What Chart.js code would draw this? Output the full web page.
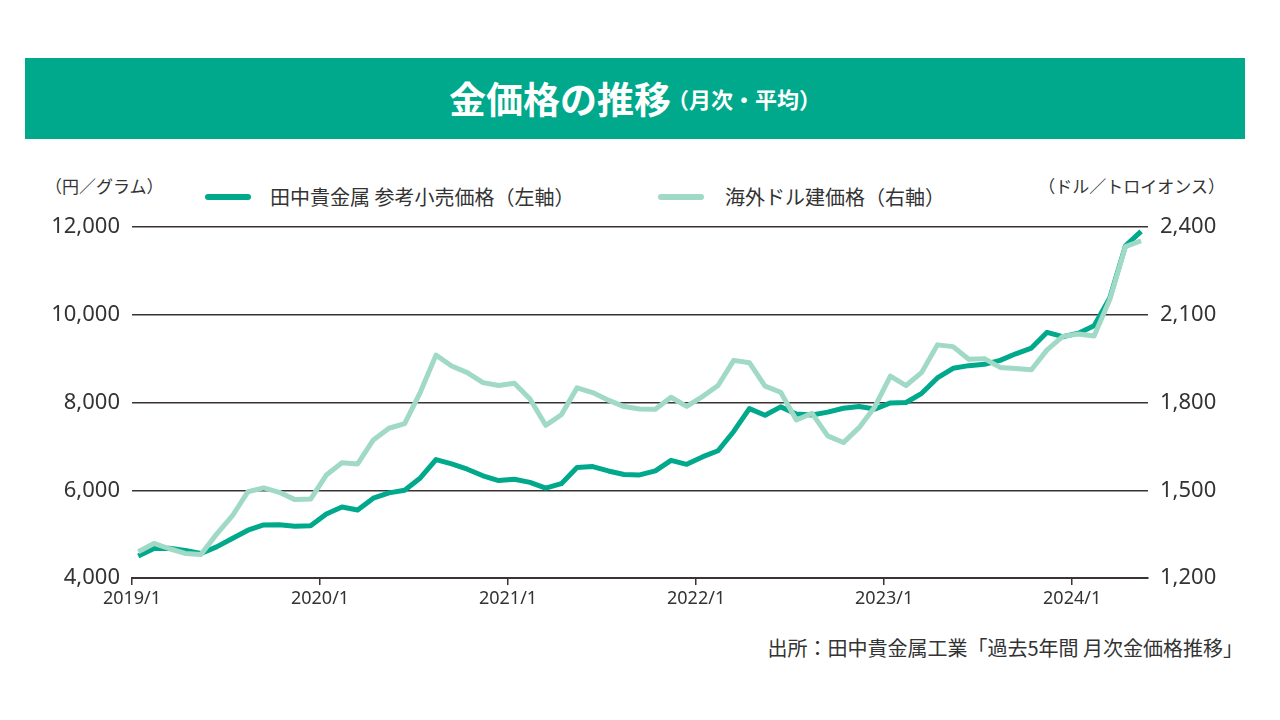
<!DOCTYPE html>
<html lang="ja">
<head>
<meta charset="utf-8">
<script src="https://cdn.jsdelivr.net/npm/chart.js@4.4.1/dist/chart.umd.min.js"></script>
<style>
  html, body { margin: 0; padding: 0; background: #ffffff; }
  body { width: 1280px; height: 720px; position: relative; overflow: hidden;
         font-family: "Noto Sans CJK JP", "Noto Sans", sans-serif; color: #333; }
  #banner { position: absolute; left: 25px; top: 58px; width: 1220px; height: 81px;
            background: #00A98B; display: flex; align-items: center; justify-content: center; }
  #banner .t1 { color: #fff; font-weight: 700; font-size: 37px; line-height: 81px; }
  #banner .t2 { color: #fff; font-weight: 700; font-size: 22px; line-height: 81px; margin-left: -4px; }
  .abs { position: absolute; white-space: nowrap; }
  .unit { font-size: 17px; height: 24px; line-height: 24px; color: #333; }
  .legtxt { font-size: 20px; height: 28px; line-height: 28px; color: #333; }
  .legline { height: 6px; width: 46px; border-radius: 3px; }
  #source { font-size: 20px; height: 28px; line-height: 28px; color: #333; }
  #c { position: absolute; left: 0; top: 0; }
</style>
</head>
<body>
<div id="banner"><span class="t1">金価格の推移</span><span class="t2">（月次・平均）</span></div>
<div class="abs unit" style="left:45px; top:174px;">（円／グラム）</div>
<div class="abs unit" style="right:55px; top:174px;">（ドル／トロイオンス）</div>
<div class="abs legline" style="left:205px; top:194px; background:#00A98B;"></div>
<div class="abs legtxt" style="left:270px; top:183px;">田中貴金属 参考小売価格（左軸）</div>
<div class="abs legline" style="left:658px; top:194px; background:#A0D9C5;"></div>
<div class="abs legtxt" style="left:725px; top:183px;">海外ドル建価格（右軸）</div>
<div class="abs" id="source" style="right:37px; top:634px;">出所：田中貴金属工業「過去5年間 月次金価格推移」</div>
<canvas id="c" width="1280" height="720"></canvas>
<script>
// Months: 2019/1 .. 2024/5 (65 monthly averages)
const yearTickLabels = ['2019/1', '2020/1', '2021/1', '2022/1', '2023/1', '2024/1'];
const yearTickMonths = [0, 12, 24, 36, 48, 60];

// 田中貴金属 参考小売価格 (円/グラム, left axis)
const tanakaYen = [
  4500, 4670, 4680, 4630, 4560, 4710, 4900, 5090, 5210, 5215, 5180, 5190,
  5460, 5620, 5550, 5820, 5940, 6000, 6280, 6700, 6600, 6480, 6330, 6220,
  6250, 6180, 6050, 6150, 6520, 6540, 6440, 6360, 6350, 6440, 6680, 6590,
  6760, 6900, 7340, 7860, 7710, 7900, 7740, 7715, 7780, 7870, 7910, 7850,
  7990, 8000, 8210, 8560, 8780, 8840, 8870, 8960, 9110, 9240, 9600, 9500,
  9580, 9750, 10380, 11570, 11900
];

// 海外ドル建価格 (ドル/トロイオンス, right axis)
const overseasUsd = [
  1290, 1318, 1300, 1284, 1280, 1350, 1412, 1495, 1508, 1493, 1468, 1470,
  1552, 1594, 1590, 1672, 1712, 1728, 1835, 1962, 1925, 1902, 1868, 1858,
  1866, 1812, 1722, 1758, 1850, 1834, 1808, 1786, 1778, 1777, 1818, 1787,
  1820, 1858, 1944, 1936, 1856, 1835, 1740, 1763, 1686, 1663, 1714, 1785,
  1890, 1858, 1903, 1997, 1991, 1948, 1950, 1920, 1916, 1912, 1980, 2026,
  2034, 2027, 2152, 2333, 2353
];

// axis ranges / ticks
const leftMin = 4000, leftMax = 12000, leftStep = 2000;
const rightMin = 1200, rightMax = 2400, rightStep = 300;

// points sit a little after each month's start
const POINT_OFFSET = 0.4;
const X_MAX = 64.84;

const darkColor = '#00A98B';
const lightColor = '#A0D9C5';
const ink = '#3a3333';

const toPts = arr => arr.map((v, i) => ({ x: i + POINT_OFFSET, y: v }));

new Chart(document.getElementById('c'), {
  type: 'line',
  data: {
    datasets: [
      { label: '田中貴金属 参考小売価格（左軸）', data: toPts(tanakaYen), yAxisID: 'yL',
        borderColor: darkColor, backgroundColor: darkColor, borderWidth: 5,
        pointRadius: 0, tension: 0, borderJoinStyle: 'round', order: 2 },
      { label: '海外ドル建価格（右軸）', data: toPts(overseasUsd), yAxisID: 'yR',
        borderColor: lightColor, backgroundColor: lightColor, borderWidth: 5,
        pointRadius: 0, tension: 0, borderJoinStyle: 'round', order: 1 }
    ]
  },
  options: {
    responsive: false,
    animation: false,
    events: [],
    layout: { padding: { top: 227, bottom: 102, left: 0, right: 0 } },
    plugins: { legend: { display: false }, tooltip: { enabled: false }, title: { display: false } },
    scales: {
      x: {
        type: 'linear', min: 0, max: X_MAX, position: 'bottom',
        afterBuildTicks: axis => { axis.ticks = yearTickMonths.map(v => ({ value: v })); },
        afterFit: axis => { axis.height = 40; },
        ticks: {
          autoSkip: false, maxRotation: 0, padding: 3, color: '#333',
          font: { family: 'Noto Sans', size: 18 },
          callback: v => { const k = yearTickMonths.indexOf(v); return k >= 0 ? yearTickLabels[k] : ''; }
        },
        grid: { display: true, drawOnChartArea: false, drawTicks: true, tickLength: 7, color: ink, lineWidth: 1.5 },
        border: { display: true, color: ink, width: 2 }
      },
      yL: {
        type: 'linear', position: 'left', min: leftMin, max: leftMax,
        afterFit: axis => { axis.width = 132; },
        ticks: { stepSize: leftStep, padding: 12, color: '#333',
                 font: { family: 'Noto Sans', size: 22 },
                 callback: v => v.toLocaleString('en-US') },
        grid: { color: ink, lineWidth: 1.5, drawTicks: false },
        border: { display: false }
      },
      yR: {
        type: 'linear', position: 'right', min: rightMin, max: rightMax,
        afterFit: axis => { axis.width = 132; },
        ticks: { stepSize: rightStep, padding: 12, color: '#333',
                 font: { family: 'Noto Sans', size: 22 },
                 callback: v => v.toLocaleString('en-US') },
        grid: { display: false, drawTicks: false },
        border: { display: false }
      }
    }
  }
});
</script>
</body>
</html>
